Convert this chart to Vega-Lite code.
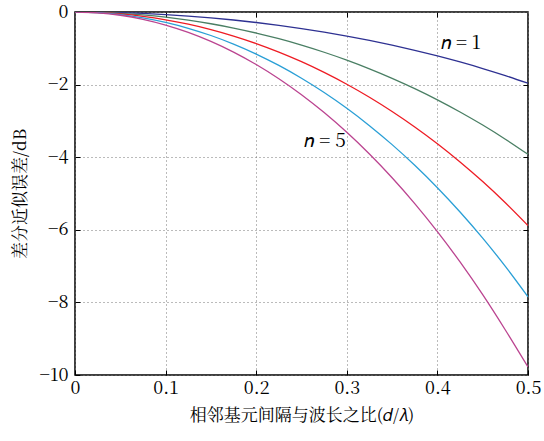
{
  "$schema": "https://vega.github.io/schema/vega-lite/v6.json",
  "width": 453,
  "height": 363,
  "autosize": {"type": "none"},
  "padding": {"left": 75, "top": 12, "right": 16, "bottom": 66},
  "background": "white",
  "config": {
    "view": {"stroke": "black", "strokeWidth": 1.5}
  },
  "datasets": {
    "curves": [
      {"x": 0, "n": "1", "y": 0}, {"x": 0.025, "n": "1", "y": -0.0045}, {"x": 0.05, "n": "1", "y": -0.0179}, {"x": 0.075, "n": "1", "y": -0.0403}, {"x": 0.1, "n": "1", "y": -0.0717}, {"x": 0.125, "n": "1", "y": -0.1122}, {"x": 0.15, "n": "1", "y": -0.1619}, {"x": 0.175, "n": "1", "y": -0.221}, {"x": 0.2, "n": "1", "y": -0.2896}, {"x": 0.225, "n": "1", "y": -0.3679}, {"x": 0.25, "n": "1", "y": -0.456}, {"x": 0.275, "n": "1", "y": -0.5544}, {"x": 0.3, "n": "1", "y": -0.6631}, {"x": 0.325, "n": "1", "y": -0.7827}, {"x": 0.35, "n": "1", "y": -0.9134}, {"x": 0.375, "n": "1", "y": -1.0557}, {"x": 0.4, "n": "1", "y": -1.21}, {"x": 0.425, "n": "1", "y": -1.3771}, {"x": 0.45, "n": "1", "y": -1.5574}, {"x": 0.475, "n": "1", "y": -1.7519}, {"x": 0.5, "n": "1", "y": -1.9612},
      {"x": 0, "n": "2", "y": 0}, {"x": 0.025, "n": "2", "y": -0.009}, {"x": 0.05, "n": "2", "y": -0.0358}, {"x": 0.075, "n": "2", "y": -0.0806}, {"x": 0.1, "n": "2", "y": -0.1434}, {"x": 0.125, "n": "2", "y": -0.2244}, {"x": 0.15, "n": "2", "y": -0.3238}, {"x": 0.175, "n": "2", "y": -0.442}, {"x": 0.2, "n": "2", "y": -0.5792}, {"x": 0.225, "n": "2", "y": -0.7358}, {"x": 0.25, "n": "2", "y": -0.912}, {"x": 0.275, "n": "2", "y": -1.1088}, {"x": 0.3, "n": "2", "y": -1.3262}, {"x": 0.325, "n": "2", "y": -1.5654}, {"x": 0.35, "n": "2", "y": -1.8268}, {"x": 0.375, "n": "2", "y": -2.1114}, {"x": 0.4, "n": "2", "y": -2.42}, {"x": 0.425, "n": "2", "y": -2.7542}, {"x": 0.45, "n": "2", "y": -3.1148}, {"x": 0.475, "n": "2", "y": -3.5038}, {"x": 0.5, "n": "2", "y": -3.9224},
      {"x": 0, "n": "3", "y": 0}, {"x": 0.025, "n": "3", "y": -0.0135}, {"x": 0.05, "n": "3", "y": -0.0537}, {"x": 0.075, "n": "3", "y": -0.1209}, {"x": 0.1, "n": "3", "y": -0.2151}, {"x": 0.125, "n": "3", "y": -0.3366}, {"x": 0.15, "n": "3", "y": -0.4857}, {"x": 0.175, "n": "3", "y": -0.663}, {"x": 0.2, "n": "3", "y": -0.8688}, {"x": 0.225, "n": "3", "y": -1.1037}, {"x": 0.25, "n": "3", "y": -1.368}, {"x": 0.275, "n": "3", "y": -1.6632}, {"x": 0.3, "n": "3", "y": -1.9893}, {"x": 0.325, "n": "3", "y": -2.3481}, {"x": 0.35, "n": "3", "y": -2.7402}, {"x": 0.375, "n": "3", "y": -3.1671}, {"x": 0.4, "n": "3", "y": -3.63}, {"x": 0.425, "n": "3", "y": -4.1313}, {"x": 0.45, "n": "3", "y": -4.6722}, {"x": 0.475, "n": "3", "y": -5.2557}, {"x": 0.5, "n": "3", "y": -5.8836},
      {"x": 0, "n": "4", "y": 0}, {"x": 0.025, "n": "4", "y": -0.018}, {"x": 0.05, "n": "4", "y": -0.0716}, {"x": 0.075, "n": "4", "y": -0.1612}, {"x": 0.1, "n": "4", "y": -0.2868}, {"x": 0.125, "n": "4", "y": -0.4488}, {"x": 0.15, "n": "4", "y": -0.6476}, {"x": 0.175, "n": "4", "y": -0.884}, {"x": 0.2, "n": "4", "y": -1.1584}, {"x": 0.225, "n": "4", "y": -1.4716}, {"x": 0.25, "n": "4", "y": -1.824}, {"x": 0.275, "n": "4", "y": -2.2176}, {"x": 0.3, "n": "4", "y": -2.6524}, {"x": 0.325, "n": "4", "y": -3.1308}, {"x": 0.35, "n": "4", "y": -3.6536}, {"x": 0.375, "n": "4", "y": -4.2228}, {"x": 0.4, "n": "4", "y": -4.84}, {"x": 0.425, "n": "4", "y": -5.5084}, {"x": 0.45, "n": "4", "y": -6.2296}, {"x": 0.475, "n": "4", "y": -7.0076}, {"x": 0.5, "n": "4", "y": -7.8448},
      {"x": 0, "n": "5", "y": 0}, {"x": 0.025, "n": "5", "y": -0.0225}, {"x": 0.05, "n": "5", "y": -0.0895}, {"x": 0.075, "n": "5", "y": -0.2015}, {"x": 0.1, "n": "5", "y": -0.3585}, {"x": 0.125, "n": "5", "y": -0.561}, {"x": 0.15, "n": "5", "y": -0.8095}, {"x": 0.175, "n": "5", "y": -1.105}, {"x": 0.2, "n": "5", "y": -1.448}, {"x": 0.225, "n": "5", "y": -1.8395}, {"x": 0.25, "n": "5", "y": -2.28}, {"x": 0.275, "n": "5", "y": -2.772}, {"x": 0.3, "n": "5", "y": -3.3155}, {"x": 0.325, "n": "5", "y": -3.9135}, {"x": 0.35, "n": "5", "y": -4.567}, {"x": 0.375, "n": "5", "y": -5.2785}, {"x": 0.4, "n": "5", "y": -6.05}, {"x": 0.425, "n": "5", "y": -6.8855}, {"x": 0.45, "n": "5", "y": -7.787}, {"x": 0.475, "n": "5", "y": -8.7595}, {"x": 0.5, "n": "5", "y": -9.78}
    ],
    "labels": [
      {"x": 0.426, "y": -0.85, "label": "𝑛 = 1"},
      {"x": 0.276, "y": -3.55, "label": "𝑛 = 5"}
    ]
  },
  "layer": [
    {
      "data": {"name": "curves"},
      "mark": {"type": "line", "strokeWidth": 1.3, "interpolate": "monotone", "clip": true},
      "encoding": {
        "x": {
          "field": "x", "type": "quantitative",
          "scale": {"domain": [0, 0.5], "nice": false},
          "axis": {
            "orient": "bottom",
            "values": [0, 0.1, 0.2, 0.3, 0.4, 0.5],
            "labelExpr": "datum.value == 0 ? '0' : format(datum.value, '.1f')",
            "labelFont": "Noto Serif CJK SC",
            "labelFontSize": 18,
            "labelColor": "black",
            "labelFlush": false,
            "labelPadding": 9,
            "domain": false,
            "tickColor": "black",
            "tickSize": -5,
            "grid": true,
            "gridColor": "#777777",
            "gridDash": [1, 3],
            "gridWidth": 1,
            "title": "相邻基元间隔与波长之比(𝑑/𝜆)",
            "titleFont": "Noto Serif CJK SC",
            "titleFontSize": 17,
            "titleFontWeight": "normal",
            "titleColor": "black",
            "titlePadding": 10
          }
        },
        "y": {
          "field": "y", "type": "quantitative",
          "scale": {"domain": [-10, 0], "nice": false},
          "axis": {
            "orient": "left",
            "values": [-10, -8, -6, -4, -2, 0],
            "labelExpr": "datum.value < 0 ? '−' + format(abs(datum.value), 'd') : '0'",
            "labelFont": "Noto Serif CJK SC",
            "labelFontSize": 18,
            "labelColor": "black",
            "labelFlush": false,
            "labelPadding": 12,
            "domain": false,
            "tickColor": "black",
            "tickSize": -5,
            "grid": true,
            "gridColor": "#777777",
            "gridDash": [1, 3],
            "gridWidth": 1,
            "title": "差分近似误差/dB",
            "titleFont": "Noto Serif CJK SC",
            "titleFontSize": 17,
            "titleFontWeight": "normal",
            "titleColor": "black",
            "titlePadding": 10
          }
        },
        "color": {
          "field": "n", "type": "nominal",
          "scale": {"domain": ["1", "2", "3", "4", "5"], "range": ["#2e3192", "#4a7f64", "#ee1c24", "#2a9fd6", "#bb4490"]},
          "legend": null
        }
      }
    },
    {
      "data": {"name": "curves"},
      "mark": {"type": "line", "opacity": 0},
      "encoding": {
        "x": {
          "field": "x", "type": "quantitative",
          "axis": {"orient": "top", "values": [0.1, 0.2, 0.3, 0.4], "labels": false, "title": null, "grid": false, "domain": false, "tickColor": "black", "tickSize": -5}
        },
        "y": {
          "field": "y", "type": "quantitative",
          "axis": {"orient": "right", "values": [-8, -6, -4, -2], "labels": false, "title": null, "grid": false, "domain": false, "tickColor": "black", "tickSize": -5}
        }
      }
    },
    {
      "data": {"name": "labels"},
      "mark": {"type": "text", "font": "Noto Serif CJK SC", "fontSize": 19, "color": "black"},
      "encoding": {
        "x": {"field": "x", "type": "quantitative", "axis": null},
        "y": {"field": "y", "type": "quantitative", "axis": null},
        "text": {"field": "label"}
      }
    }
  ],
  "resolve": {"axis": {"x": "independent", "y": "independent"}}
}
